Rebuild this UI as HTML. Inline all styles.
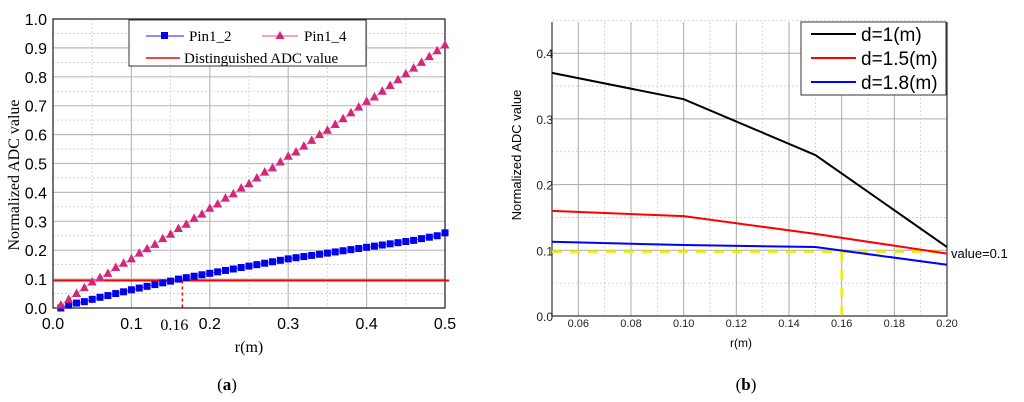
<!DOCTYPE html>
<html><head><meta charset="utf-8"><style>
body{margin:0;background:#fff;width:1024px;height:402px;overflow:hidden}
svg{display:block}
</style></head><body>
<svg width="1024" height="402" xmlns="http://www.w3.org/2000/svg">
<g id="A"></g>
<g id="B"></g>
<text x="227" y="390" font-family="Liberation Serif, serif" font-size="17" text-anchor="middle">(<tspan font-weight="bold">a</tspan>)</text>
<text x="746" y="390" font-family="Liberation Serif, serif" font-size="17" text-anchor="middle">(<tspan font-weight="bold">b</tspan>)</text>
</svg>
<script>
const aPin14=[0.01,0.03,0.05,0.07,0.09,0.105,0.12,0.14,0.155,0.17,0.19,0.205,0.22,0.24,0.255,0.275,0.29,0.31,0.325,0.345,0.36,0.38,0.395,0.415,0.43,0.45,0.47,0.485,0.505,0.525,0.54,0.56,0.58,0.6,0.615,0.635,0.655,0.675,0.695,0.715,0.73,0.75,0.77,0.79,0.81,0.83,0.85,0.87,0.89,0.91];
const aPin12=[0.0,0.01,0.017,0.022,0.03,0.037,0.043,0.05,0.056,0.063,0.069,0.075,0.081,0.087,0.093,0.1,0.105,0.11,0.115,0.12,0.125,0.13,0.135,0.14,0.145,0.15,0.155,0.16,0.165,0.17,0.174,0.178,0.182,0.186,0.19,0.194,0.198,0.202,0.206,0.21,0.214,0.218,0.222,0.226,0.23,0.234,0.24,0.245,0.25,0.26];
const aThreshold=0.095;
const aCross=0.165;
const aXTicks=["0.0","0.1","0.2","0.3","0.4","0.5"];
const aYTicks=["0.0","0.1","0.2","0.3","0.4","0.5","0.6","0.7","0.8","0.9","1.0"];
const bR=[0.05,0.10,0.15,0.20];
const bD1=[0.37,0.33,0.245,0.105];
const bD15=[0.16,0.152,0.125,0.095];
const bD18=[0.113,0.108,0.105,0.078];
const bValueLine=0.098;
const bCross=0.16;
const bXTicks=["0.06","0.08","0.10","0.12","0.14","0.16","0.18","0.20"];
const bYTicks=["0.0","0.1","0.2","0.3","0.4"];
const NS="http://www.w3.org/2000/svg";
function mk(p,t,at){const e=document.createElementNS(NS,t);for(const k in at)e.setAttribute(k,at[k]);p.appendChild(e);return e;}
// ---- Chart A
const A=document.getElementById('A');
const ax=v=>53+v/0.5*392, ay=v=>308-v*289;
for(let i=0;i<=20;i++){const v=i*0.05;const l=mk(A,'line',{x1:53,x2:445,y1:ay(v),y2:ay(v),stroke:i%2?'#ccc':'#bbb','stroke-width':i%2?0.8:1.2,'stroke-dasharray':i%2?'2,2':'none'});
}
for(let i=0;i<=10;i++){const v=i*0.05;const l=mk(A,'line',{x1:ax(v),x2:ax(v),y1:19,y2:308,stroke:i%2?'#ccc':'#bbb','stroke-width':i%2?0.8:1.2,'stroke-dasharray':i%2?'2,2':'none'});
}
let f=mk(A,'rect',{x:53,y:19,width:392,height:289,fill:'none',stroke:'#222','stroke-width':1.2});

aYTicks.forEach((t,i)=>{const e=mk(A,'text',{x:47,y:ay(i*0.1)+6,'text-anchor':'end','font-family':'Liberation Sans, sans-serif','font-size':16});e.textContent=t;
});
aXTicks.forEach((t,i)=>{const e=mk(A,'text',{x:ax(i*0.1),y:329,'text-anchor':'middle','font-family':'Liberation Sans, sans-serif','font-size':16});e.textContent=t;
});
let e=mk(A,'text',{x:ax(aCross)-8,y:330,'text-anchor':'middle','font-family':'Liberation Serif, serif','font-size':16});e.textContent='0.16';

e=mk(A,'text',{x:249,y:352,'text-anchor':'middle','font-family':'Liberation Serif, serif','font-size':16});e.textContent='r(m)';

e=mk(A,'text',{x:0,y:0,transform:'translate(19,175) rotate(-90)','text-anchor':'middle','font-family':'Liberation Serif, serif','font-size':16});e.textContent='Normalized ADC value';

e=mk(A,'line',{x1:53,x2:449,y1:ay(aThreshold),y2:ay(aThreshold),stroke:'#f00','stroke-width':2});

e=mk(A,'line',{x1:ax(aCross),x2:ax(aCross),y1:ay(aThreshold),y2:308,stroke:'#f00','stroke-width':1.5,'stroke-dasharray':'3,3'});

const p12=aPin12.map((v,i)=>ax((i+1)*0.01)+','+ay(v)).join(' ');
e=mk(A,'polyline',{points:p12,fill:'none',stroke:'#66f','stroke-width':1});
aPin12.forEach((v,i)=>{const r=mk(A,'rect',{x:ax((i+1)*0.01)-3.5,y:ay(v)-3.5,width:7,height:7,fill:'#0000ee'});
});
const p14=aPin14.map((v,i)=>ax((i+1)*0.01)+','+ay(v)).join(' ');
e=mk(A,'polyline',{points:p14,fill:'none',stroke:'#e8a','stroke-width':1});
aPin14.forEach((v,i)=>{const x=ax((i+1)*0.01),y=ay(v);const t=mk(A,'polygon',{points:`${x},${y-5} ${x-4.5},${y+3.5} ${x+4.5},${y+3.5}`,fill:'#d4267a'});
});
const LG=mk(A,'g',{});
mk(LG,'rect',{x:129,y:20,width:237,height:46,fill:'#fff',stroke:'#333','stroke-width':1});
mk(LG,'line',{x1:146,x2:184,y1:36,y2:36,stroke:'#66f','stroke-width':1.5});mk(LG,'rect',{x:161,y:32,width:7,height:7,fill:'#0000ee'});
mk(LG,'line',{x1:262,x2:298,y1:36,y2:36,stroke:'#e8a','stroke-width':1.5});mk(LG,'polygon',{points:'280,31 275.5,39 284.5,39',fill:'#d4267a'});
mk(LG,'line',{x1:146,x2:180,y1:58,y2:58,stroke:'#f00','stroke-width':1.5});
[['Pin1_2',189,41],['Pin1_4',304,41],['Distinguished ADC value',184,63]].forEach(([t,x,y])=>{const q=mk(LG,'text',{x:x,y:y,'font-family':'Liberation Serif, serif','font-size':15});q.textContent=t;
});
// ---- Chart B
const B=document.getElementById('B');
const bx=v=>552+(v-0.05)/0.15*395, by=v=>316-v*657;
for(let i=0;i<=9;i++){const v=i*0.05;const l=mk(B,'line',{x1:552,x2:947,y1:by(v),y2:by(v),stroke:i%2?'#ccc':'#aaa','stroke-width':i%2?0.8:1,'stroke-dasharray':i%2?'2,2':'none'});
}
for(let i=0;i<=15;i++){const v=0.05+i*0.01;const l=mk(B,'line',{x1:bx(v),x2:bx(v),y1:22,y2:316,stroke:i%2?'#aaa':'#ccc','stroke-width':i%2?1:0.8,'stroke-dasharray':i%2?'none':'2,2'});
}
f=mk(B,'polyline',{points:'552,22 552,316 947,316 947,22',fill:'none',stroke:'#333','stroke-width':1.2});

bYTicks.forEach((t,i)=>{const q=mk(B,'text',{x:553,y:by(i*0.1)+5,'text-anchor':'end','font-family':'Liberation Sans, sans-serif','font-size':12,fill:'#222'});q.textContent=t;
});
bXTicks.forEach((t,i)=>{const q=mk(B,'text',{x:bx(0.06+i*0.02),y:327,'text-anchor':'middle','font-family':'Liberation Sans, sans-serif','font-size':11,fill:'#222'});q.textContent=t;
});
e=mk(B,'text',{x:741,y:347,'text-anchor':'middle','font-family':'Liberation Sans, sans-serif','font-size':12});e.textContent='r(m)';

e=mk(B,'text',{x:0,y:0,transform:'translate(521,155) rotate(-90)','text-anchor':'middle','font-family':'Liberation Sans, sans-serif','font-size':13});e.textContent='Normalized ADC value';

e=mk(B,'line',{x1:552,x2:947,y1:by(bValueLine),y2:by(bValueLine),stroke:'#ee0','stroke-width':2.5,'stroke-dasharray':'10,8'});

e=mk(B,'line',{x1:bx(bCross),x2:bx(bCross),y1:by(bValueLine),y2:316,stroke:'#ee0','stroke-width':2.5,'stroke-dasharray':'10,8'});

[[bD1,'#000','d-1'],[bD15,'#f00','d-1-5'],[bD18,'#00f','d-1-8']].forEach(([d,c,n])=>{const q=mk(B,'polyline',{points:d.map((v,i)=>bx(bR[i])+','+by(v)).join(' '),fill:'none',stroke:c,'stroke-width':2});
});
e=mk(B,'text',{x:951,y:258,'font-family':'Liberation Sans, sans-serif','font-size':13});e.textContent='value=0.1';

const LB=mk(B,'g',{});
mk(LB,'rect',{x:801,y:22,width:145,height:73,fill:'#fff',stroke:'#333','stroke-width':1});
[['d=1(m)','#000',34],['d=1.5(m)','#f00',58],['d=1.8(m)','#00f',82]].forEach(([t,c,y])=>{mk(LB,'line',{x1:811,x2:856,y1:y,y2:y,stroke:c,'stroke-width':2});
const q=mk(LB,'text',{x:861,y:y+7,'font-family':'Liberation Sans, sans-serif','font-size':19});q.textContent=t;
});
</script>
</body></html>
